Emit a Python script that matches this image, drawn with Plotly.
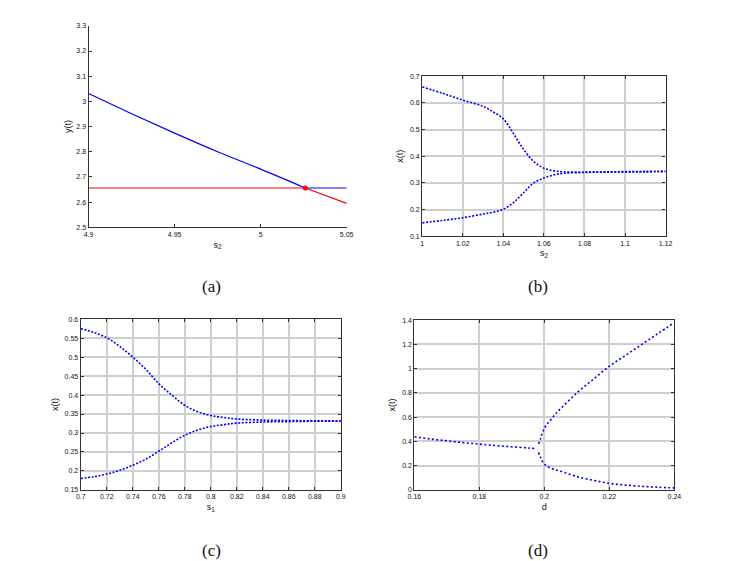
import plotly.graph_objects as go

W, H = 746, 561

# (a) y(t) vs s2
a_s2 = [4.9, 4.925, 4.95, 4.975, 5.0, 5.026, 5.05]
a_blue = [3.031, 2.951, 2.874, 2.80, 2.731, 2.656, 2.656]
a_red = [2.656, 2.656, 2.656, 2.656, 2.656, 2.656, 2.595]
a_point = (5.026, 2.656)

# (b) x(t) vs s2
b_s2 = [1.0, 1.01, 1.02, 1.03, 1.035, 1.04, 1.045, 1.05, 1.055, 1.06,
        1.065, 1.07, 1.08, 1.09, 1.1, 1.11, 1.12]
b_upper = [0.66, 0.636, 0.61, 0.587, 0.566, 0.54, 0.485, 0.425, 0.38, 0.355,
           0.345, 0.341, 0.340, 0.341, 0.342, 0.342, 0.343]
b_lower = [0.15, 0.159, 0.169, 0.183, 0.19, 0.201, 0.226, 0.263, 0.30, 0.318,
           0.33, 0.336, 0.339, 0.340, 0.341, 0.342, 0.343]

# (c) x(t) vs s1
c_s1 = [0.7, 0.71, 0.72, 0.73, 0.74, 0.75, 0.76, 0.77, 0.78, 0.79, 0.8,
        0.81, 0.82, 0.84, 0.86, 0.88, 0.9]
c_upper = [0.575, 0.565, 0.551, 0.528, 0.50, 0.468, 0.43, 0.40, 0.373, 0.356,
           0.346, 0.341, 0.337, 0.334, 0.333, 0.332, 0.332]
c_lower = [0.18, 0.185, 0.192, 0.202, 0.215, 0.231, 0.252, 0.274, 0.294, 0.308,
           0.317, 0.322, 0.326, 0.329, 0.330, 0.331, 0.331]

# (d) x(t) vs d
d_left = [0.16, 0.165, 0.17, 0.175, 0.18, 0.185, 0.19, 0.195, 0.1975]
d_left_x = [0.438, 0.42, 0.405, 0.39, 0.378, 0.366, 0.356, 0.346, 0.34]
d_right = [0.1982, 0.1988, 0.1995, 0.2005, 0.202, 0.2035, 0.205, 0.21, 0.215,
           0.22, 0.225, 0.23, 0.235, 0.24]
d_upper = [0.38, 0.42, 0.48, 0.53, 0.58, 0.63, 0.67, 0.80, 0.91, 1.02, 1.11,
           1.20, 1.29, 1.38]
d_lower = [0.31, 0.27, 0.23, 0.20, 0.18, 0.165, 0.155, 0.11, 0.08, 0.055, 0.04,
           0.03, 0.022, 0.017]

a_yticks = [2.5, 2.6, 2.7, 2.8, 2.9, 3.0, 3.1, 3.2, 3.3]
a_yticktext = ["2.5", "2.6", "2.7", "2.8", "2.9", "3", "3.1", "3.2", "3.3"]

captions = ["(a)", "(b)", "(c)", "(d)"]

BLUE = "#0000ff"
RED = "#ff0000"
tick_font = dict(family="Liberation Sans, Arial", size=7, color="#111")
title_font = dict(family="Liberation Sans, Arial", size=9, color="#111")


def dom(x0, x1, y0, y1):
    # pixel box -> paper domains
    return [x0 / W, x1 / W], [1 - y1 / H, 1 - y0 / H]


def dotted(x, y, xa, ya, gap="1.6px"):
    return go.Scatter(x=x, y=y, mode="lines", xaxis=xa, yaxis=ya,
                      line=dict(color=BLUE, width=1.6, dash="2px," + gap, shape="spline"),
                      showlegend=False, hoverinfo="skip")


fig = go.Figure()

# panel a
fig.add_trace(go.Scatter(x=a_s2[:-1], y=a_blue[:-1], mode="lines",
                         line=dict(color=BLUE, width=1.2, shape="spline"),
                         showlegend=False, xaxis="x", yaxis="y"))
fig.add_trace(go.Scatter(x=a_s2[-2:], y=a_blue[-2:], mode="lines",
                         line=dict(color=BLUE, width=1.2),
                         showlegend=False, xaxis="x", yaxis="y"))
fig.add_trace(go.Scatter(x=a_s2, y=a_red, mode="lines", line=dict(color=RED, width=1.2),
                         showlegend=False, xaxis="x", yaxis="y"))
fig.add_trace(go.Scatter(x=[a_point[0]], y=[a_point[1]], mode="markers",
                         marker=dict(color=RED, size=5), showlegend=False,
                         xaxis="x", yaxis="y"))

# panel b
fig.add_trace(dotted(b_s2, b_upper, "x2", "y2"))
fig.add_trace(dotted(b_s2, b_lower, "x2", "y2"))

# panel c
fig.add_trace(dotted(c_s1, c_upper, "x3", "y3"))
fig.add_trace(dotted(c_s1, c_lower, "x3", "y3"))

# panel d (sparser dots)
fig.add_trace(dotted(d_left, d_left_x, "x4", "y4", "2.4px"))
fig.add_trace(dotted(d_right, d_upper, "x4", "y4", "2.4px"))
fig.add_trace(dotted(d_right, d_lower, "x4", "y4", "2.4px"))

common = dict(showline=True, linecolor="#333", linewidth=1.2, ticks="inside",
              ticklen=3, tickcolor="#333", tickfont=tick_font, zeroline=False)
boxed = dict(common, mirror="ticks", showgrid=True, gridcolor="#cfcfcf", gridwidth=1.5)

xa, ya = dom(75, 338, 14, 218)
xb, yb = dom(415, 663, 65, 227)
xc, yc = dom(67, 332, 311, 484)
xd, yd = dom(407, 672, 312, 484)

fig.update_layout(
    width=W, height=H, plot_bgcolor="white", paper_bgcolor="white",
    margin=dict(l=0, r=0, t=0, b=0),
    xaxis=dict(common, domain=xa, anchor="y", range=[4.9, 5.05], showgrid=False,
               tickvals=[4.9, 4.95, 5.0, 5.05], ticktext=["4.9", "4.95", "5", "5.05"],
               title=dict(text="s<sub>2</sub>", font=title_font, standoff=4)),
    yaxis=dict(common, domain=ya, anchor="x", range=[2.5, 3.3], showgrid=False,
               tickvals=a_yticks, ticktext=a_yticktext,
               title=dict(text="y(t)", font=title_font, standoff=3)),
    xaxis2=dict(boxed, domain=xb, anchor="y2", range=[1.0, 1.12],
                tickvals=[1.0, 1.02, 1.04, 1.06, 1.08, 1.1, 1.12],
                ticktext=["1", "1.02", "1.04", "1.06", "1.08", "1.1", "1.12"],
                title=dict(text="s<sub>2</sub>", font=title_font, standoff=4)),
    yaxis2=dict(boxed, domain=yb, anchor="x2", range=[0.1, 0.7], dtick=0.1,
                title=dict(text="x(t)", font=title_font, standoff=4)),
    xaxis3=dict(boxed, domain=xc, anchor="y3", range=[0.7, 0.9],
                tickvals=[0.7, 0.72, 0.74, 0.76, 0.78, 0.8, 0.82, 0.84, 0.86, 0.88, 0.9],
                ticktext=["0.7", "0.72", "0.74", "0.76", "0.78", "0.8", "0.82",
                          "0.84", "0.86", "0.88", "0.9"],
                title=dict(text="s<sub>1</sub>", font=title_font, standoff=4)),
    yaxis3=dict(boxed, domain=yc, anchor="x3", range=[0.15, 0.6], dtick=0.05,
                title=dict(text="x(t)", font=title_font, standoff=4)),
    xaxis4=dict(boxed, domain=xd, anchor="y4", range=[0.16, 0.24],
                tickvals=[0.16, 0.18, 0.2, 0.22, 0.24],
                ticktext=["0.16", "0.18", "0.2", "0.22", "0.24"],
                title=dict(text="d", font=title_font, standoff=4)),
    yaxis4=dict(boxed, domain=yd, anchor="x4", range=[0, 1.4], dtick=0.2,
                title=dict(text="x(t)", font=title_font, standoff=4)),
)

cap_pos = [(200, 278), (533, 278), (200, 545), (533, 545)]
for text, (px, py) in zip(captions, cap_pos):
    fig.add_annotation(text=text, x=px / W, y=1 - py / H, xref="paper", yref="paper",
                       showarrow=False, xanchor="center", yanchor="middle",
                       font=dict(family="Liberation Serif, DejaVu Serif", size=17, color="#111"))

fig.write_html("out.html")
